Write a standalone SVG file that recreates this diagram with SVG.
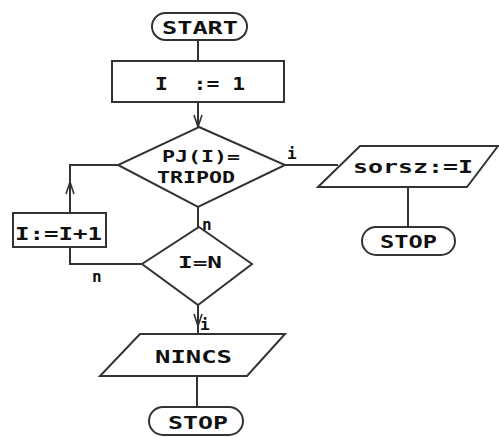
<svg xmlns="http://www.w3.org/2000/svg" width="499" height="437" viewBox="0 0 499 437">
<style>
.s{fill:#fff;stroke:#333;stroke-width:2}
.c{fill:none;stroke:#333;stroke-width:2}
.t{font-family:"DejaVu Sans Mono","Liberation Mono",monospace;font-weight:bold;fill:#111;text-anchor:start}
.l{font-family:"DejaVu Sans Mono","Liberation Mono",monospace;font-weight:bold;fill:#111;font-size:16px}
</style>
<defs>
<marker id="v" markerWidth="14" markerHeight="10" refX="13" refY="5" orient="auto" markerUnits="userSpaceOnUse" viewBox="0 0 14 10">
<path d="M1,1 L13,5 L1,9" fill="none" stroke="#333" stroke-width="1.6"/>
</marker>
</defs>
<rect width="499" height="437" fill="#fff"/>
<g id="connectors">
<line class="c" x1="198" y1="40" x2="198" y2="61"/>
<line class="c" x1="198" y1="102" x2="198" y2="127" marker-end="url(#v)"/>
<polyline class="c" points="118,165 70,165 70,213"/>
<line class="c" x1="70" y1="200" x2="70" y2="182" marker-end="url(#v)"/>
<polyline class="c" points="70,247 70,264 142,264"/>
<line class="c" x1="198" y1="207" x2="198" y2="227"/>
<line class="c" x1="285" y1="165" x2="338" y2="165"/>
<line class="c" x1="408" y1="187" x2="408" y2="227"/>
<line class="c" x1="198" y1="305" x2="198" y2="334"/>
<line class="c" x1="198" y1="305" x2="198" y2="326" marker-end="url(#v)"/>
<line class="c" x1="197" y1="376" x2="197" y2="407"/>
<text class="l" x="287" y="159">i</text>
<text class="l" x="202" y="230">n</text>
<text class="l" x="92" y="282">n</text>
<text class="l" x="200" y="330">i</text>
</g>
<g id="start">
<rect class="s" x="152" y="13" width="95" height="27" rx="13.5"/>
<text class="t" x="162" y="34" font-size="17" textLength="76" lengthAdjust="spacingAndGlyphs">START</text>
</g>
<g id="init">
<rect class="s" x="112" y="61" width="172" height="41"/>
<text class="t" x="155" y="90" font-size="17" textLength="90" lengthAdjust="spacingAndGlyphs" xml:space="preserve">I  := 1</text>
</g>
<g id="dec1">
<polygon class="s" points="199,127 285,165 198,207 118,165"/>
<text class="t" x="162" y="162" font-size="16" textLength="78" lengthAdjust="spacingAndGlyphs">PJ(I)=</text>
<text class="t" x="157" y="183" font-size="16" textLength="78" lengthAdjust="spacingAndGlyphs">TRIPOD</text>
</g>
<g id="incr">
<rect class="s" x="13" y="213" width="93" height="34"/>
<text class="t" x="15" y="240" font-size="18" textLength="87" lengthAdjust="spacingAndGlyphs">I:=I+1</text>
</g>
<g id="dec2">
<polygon class="s" points="199,227 252,264 198,305 142,264"/>
<text class="t" x="178" y="268" font-size="16" textLength="44" lengthAdjust="spacingAndGlyphs">I=N</text>
</g>
<g id="out1">
<polygon class="s" points="360,146 498,146 467,187 318,187"/>
<text class="t" x="353" y="173" font-size="17" textLength="120" lengthAdjust="spacingAndGlyphs">sorsz:=I</text>
</g>
<g id="stop1">
<rect class="s" x="362" y="227" width="93" height="28" rx="14"/>
<text class="t" x="380" y="248" font-size="17" textLength="57" lengthAdjust="spacingAndGlyphs">STOP</text>
</g>
<g id="out2">
<polygon class="s" points="140,334 285,334 247,376 100,376"/>
<text class="t" x="155" y="363" font-size="18" textLength="77" lengthAdjust="spacingAndGlyphs">NINCS</text>
</g>
<g id="stop2">
<rect class="s" x="149" y="407" width="94" height="28" rx="14"/>
<text class="t" x="168" y="429" font-size="17" textLength="60" lengthAdjust="spacingAndGlyphs">STOP</text>
</g>
</svg>
